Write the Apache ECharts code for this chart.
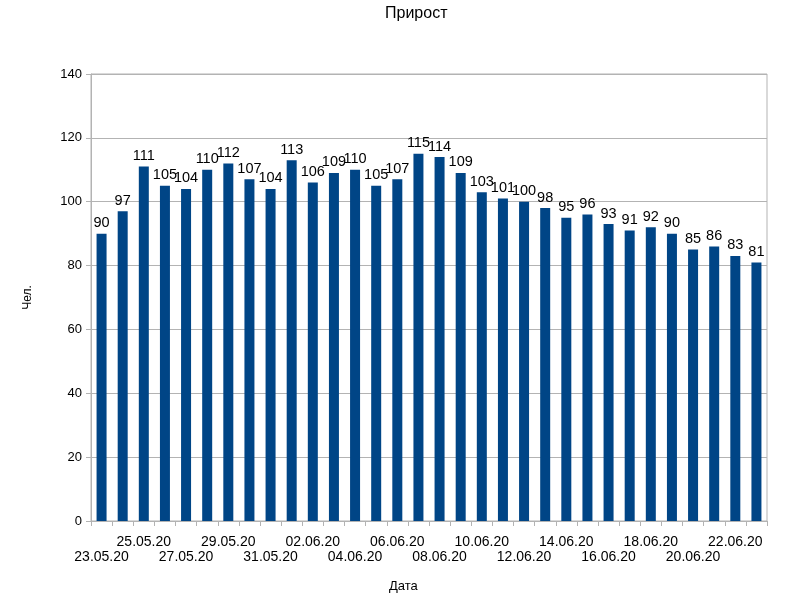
<!DOCTYPE html>
<html>
<head>
<meta charset="utf-8">
<script src="https://cdn.jsdelivr.net/npm/echarts@6/dist/echarts.min.js"></script>
<style>html,body{margin:0;padding:0;background:#fff}#c{width:800px;height:600px}</style>
</head>
<body>
<div id="c"></div>
<script>
const categories = ['23.05.20','24.05.20','25.05.20','26.05.20','27.05.20','28.05.20','29.05.20','30.05.20','31.05.20',
  '01.06.20','02.06.20','03.06.20','04.06.20','05.06.20','06.06.20','07.06.20','08.06.20','09.06.20','10.06.20',
  '11.06.20','12.06.20','13.06.20','14.06.20','15.06.20','16.06.20','17.06.20','18.06.20','19.06.20','20.06.20',
  '21.06.20','22.06.20','23.06.20'];
const values = [90,97,111,105,104,110,112,107,104,113,106,109,110,105,107,115,114,109,103,101,100,98,95,96,93,91,92,90,85,86,83,81];
const chartTitle = 'Прирост';
const xTitle = 'Дата';
const yTitle = 'Чел.';

const font = '"Liberation Sans", Arial, sans-serif';
const chart = echarts.init(document.getElementById('c'));
chart.setOption({
  animation: false,
  backgroundColor: '#fff',
  title: [
    { text: chartTitle, left: 380, top: 1, textStyle: { fontFamily: font, fontSize: 16, fontWeight: 'normal', color: '#000' } },
    { text: xTitle, left: 384, top: 575, textStyle: { fontFamily: font, fontSize: 13, fontWeight: 'normal', color: '#000' } }
  ],
  grid: { left: 91, right: 33, top: 74, bottom: 79, containLabel: false, show: true, borderColor: '#b3b3b3', borderWidth: 1 },
  xAxis: {
    type: 'category',
    data: categories,
    axisLine: { lineStyle: { color: '#b3b3b3' } },
    axisTick: { show: true, interval: 0, length: 5, lineStyle: { color: '#b3b3b3' } },
    axisLabel: {
      interval: 0,
      hideOverlap: false,
      fontFamily: font, fontSize: 14, color: '#000', margin: 14, lineHeight: 15,
      formatter: function (v, i) {
        if (i % 2 === 1) return '';
        return (i % 4 === 0) ? '\n' + v : v;
      }
    }
  },
  yAxis: {
    type: 'value',
    min: 0, max: 140, interval: 20,
    name: yTitle, nameLocation: 'middle', nameGap: 57, nameRotate: 90,
    nameTextStyle: { fontFamily: font, fontSize: 12, color: '#000' },
    axisLine: { show: true, lineStyle: { color: '#b3b3b3' } },
    axisTick: { show: true, length: 5, lineStyle: { color: '#b3b3b3' } },
    axisLabel: { fontFamily: font, fontSize: 13, color: '#000', margin: 9 },
    splitLine: { lineStyle: { color: '#b3b3b3' } }
  },
  series: [{
    type: 'bar',
    data: values,
    barWidth: 10,
    itemStyle: { color: '#004586' },
    label: { show: true, position: 'top', distance: 3, fontFamily: font, fontSize: 14.5, color: '#000' }
  }]
});
</script>
</body>
</html>
